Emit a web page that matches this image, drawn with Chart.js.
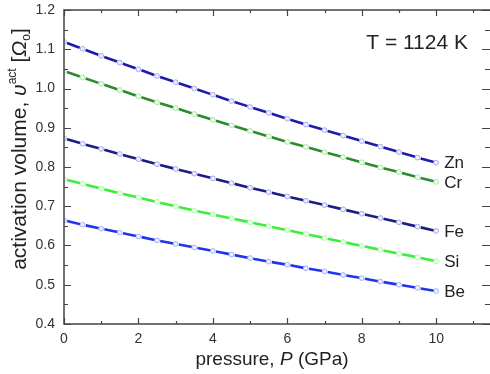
<!DOCTYPE html>
<html>
<head>
<meta charset="utf-8">
<script src="https://cdn.jsdelivr.net/npm/chart.js@4.4.0/dist/chart.umd.min.js"></script>
<style>
  html, body { margin: 0; padding: 0; background: #fff; overflow: hidden; }
  #wrap { width: 497px; height: 374px; }
</style>
</head>
<body>
<div id="wrap"><canvas id="chart"></canvas></div>
<script>
// pressure grid (GPa)
const pressure = [0, 0.5, 1, 1.5, 2, 2.5, 3, 3.5, 4, 4.5, 5, 5.5, 6, 6.5, 7, 7.5, 8, 8.5, 9, 9.5, 10];

// activation volume, in units of Omega_o
const zn = [1.119, 1.101, 1.083, 1.066, 1.049, 1.032, 1.016, 1.000, 0.984, 0.968, 0.953, 0.938, 0.923, 0.908, 0.894, 0.880, 0.866, 0.852, 0.838, 0.824, 0.811];
const cr = [1.045, 1.028, 1.012, 0.996, 0.980, 0.965, 0.950, 0.935, 0.920, 0.906, 0.892, 0.878, 0.864, 0.851, 0.838, 0.825, 0.812, 0.799, 0.787, 0.774, 0.762];
const fe = [0.873, 0.859, 0.846, 0.833, 0.820, 0.807, 0.795, 0.783, 0.771, 0.759, 0.747, 0.736, 0.725, 0.714, 0.703, 0.692, 0.681, 0.670, 0.659, 0.648, 0.637];
const si = [0.769, 0.757, 0.745, 0.733, 0.722, 0.711, 0.700, 0.689, 0.679, 0.669, 0.659, 0.649, 0.639, 0.629, 0.619, 0.609, 0.599, 0.589, 0.579, 0.570, 0.560];
const be = [0.664, 0.653, 0.643, 0.633, 0.623, 0.613, 0.604, 0.595, 0.586, 0.577, 0.568, 0.559, 0.551, 0.542, 0.534, 0.525, 0.517, 0.508, 0.500, 0.492, 0.484];

const elements = ['Zn', 'Cr', 'Fe', 'Si', 'Be'];
const xTicks = [0, 2, 4, 6, 8, 10];
const yTicks = [0.4, 0.5, 0.6, 0.7, 0.8, 0.9, 1.0, 1.1, 1.2];
const tempLabel = 'T = 1124 K';

const FONT = '"Liberation Sans", Arial, sans-serif';
const TEXT = '#222';
const AXIS = '#444';

function series(values, color, ptBorder, ptFill) {
    return {
        data: values.map((v, i) => ({ x: pressure[i], y: v })),
        borderColor: color,
        borderWidth: 2.6,
        borderDash: [0, 3.2, 13.6, 50],
        segment: {
            // distinct offset per segment (multiple of the dash period) so each one restarts the dash
            borderDashOffset: ctx => ctx.p0DataIndex * 66.8
        },
        pointRadius: 2.4,
        pointBorderWidth: 1,
        pointBorderColor: ptBorder,
        pointBackgroundColor: ptFill,
        tension: 0,
        fill: false
    };
}

const datasets = [
    series(zn, '#1c1cac', '#a8a8f0', '#eeeeff'),
    series(cr, '#2a8c2a', '#a8e0a8', '#f0fff0'),
    series(fe, '#1c1c84', '#a8a8e8', '#eeeeff'),
    series(si, '#3ced3c', '#b0f4b0', '#f0fff0'),
    series(be, '#2034ea', '#a8b0f8', '#eeeeff')
];

// frame, inward ticks, curve labels and axis titles
const decorations = {
    id: 'decorations',
    afterDraw(chart) {
        const { ctx, chartArea: a, scales: { x, y } } = chart;
        ctx.save();

        // frame
        ctx.strokeStyle = AXIS;
        ctx.lineWidth = 1.5;
        ctx.strokeRect(a.left, a.top, a.right - a.left, a.bottom - a.top);

        // x ticks (bottom and top, pointing in)
        ctx.lineWidth = 1.2;
        ctx.beginPath();
        for (let v = 0; v <= x.max + 1e-9; v += 1) {
            const px = Math.round(x.getPixelForValue(v)) + 0.5;
            const len = v % 2 === 0 ? 6 : 3;
            ctx.moveTo(px, a.bottom); ctx.lineTo(px, a.bottom - len);
            ctx.moveTo(px, a.top); ctx.lineTo(px, a.top + len);
        }
        // y ticks (left and right, pointing in)
        for (let k = 0; k <= 16; k++) {
            const v = y.min + k * 0.05;
            const py = Math.round(y.getPixelForValue(v)) + 0.5;
            const len = k % 2 === 0 ? 7 : 4;
            ctx.moveTo(a.left, py); ctx.lineTo(a.left + len, py);
            ctx.moveTo(a.right, py); ctx.lineTo(a.right - len - 3, py);
        }
        ctx.stroke();

        // element labels at the end of each curve
        ctx.fillStyle = TEXT;
        ctx.font = '17px ' + FONT;
        ctx.textAlign = 'left';
        ctx.textBaseline = 'middle';
        chart.data.datasets.forEach((ds, i) => {
            const pts = chart.getDatasetMeta(i).data;
            const last = pts[pts.length - 1];
            ctx.fillText(elements[i], last.x + 8, last.y + 1);
        });

        // temperature
        ctx.font = '21px ' + FONT;
        ctx.textAlign = 'right';
        ctx.fillText(tempLabel, 468, 43);

        // x title: pressure, P (GPa)
        const xParts = [
            { t: 'pressure, ', f: '19px ' + FONT },
            { t: 'P', f: 'italic 19px ' + FONT },
            { t: ' (GPa)', f: '19px ' + FONT }
        ];
        let w = 0;
        xParts.forEach(p => { ctx.font = p.f; p.w = ctx.measureText(p.t).width; w += p.w; });
        let cx = 272 - w / 2;
        ctx.textAlign = 'left';
        ctx.textBaseline = 'alphabetic';
        xParts.forEach(p => { ctx.font = p.f; ctx.fillText(p.t, cx, 365); cx += p.w; });

        // y title: activation volume, υ^act [Ω_o]
        const yParts = [
            { t: 'activation volume, ', f: '21px ' + FONT, dy: 0 },
            { t: 'υ', f: 'italic 21px ' + FONT, dy: 0 },
            { t: 'act', f: '12px ' + FONT, dy: -10 },
            { t: ' [', f: '21px ' + FONT, dy: 0 },
            { t: 'Ω', f: 'italic 21px ' + FONT, dy: 0 },
            { t: 'o', f: '12px ' + FONT, dy: 4 },
            { t: ']', f: '21px ' + FONT, dy: 0 }
        ];
        w = 0;
        yParts.forEach(p => { ctx.font = p.f; p.w = ctx.measureText(p.t).width; w += p.w; });
        ctx.translate(26, 149);
        ctx.rotate(-Math.PI / 2);
        cx = -w / 2;
        yParts.forEach(p => { ctx.font = p.f; ctx.fillText(p.t, cx, p.dy); cx += p.w; });

        ctx.restore();
    }
};

new Chart(document.getElementById('chart'), {
    type: 'line',
    data: { datasets },
    options: {
        responsive: true,
        maintainAspectRatio: false,
        animation: false,
        layout: { padding: { top: 10, right: 0, left: 0, bottom: 0 } },
        plugins: { legend: { display: false }, tooltip: { enabled: false } },
        scales: {
            x: {
                type: 'linear',
                min: 0,
                max: 11.5,
                grid: { display: false, drawTicks: false },
                border: { display: false },
                afterBuildTicks: axis => { axis.ticks = xTicks.map(v => ({ value: v })); },
                afterFit: axis => {
                    axis.height = 50;
                    axis.paddingLeft = 0;
                    axis.paddingRight = 0;
                },
                ticks: {
                    padding: 7,
                    color: '#333',
                    font: { family: FONT, size: 14 },
                    maxRotation: 0,
                    callback: v => String(v)
                }
            },
            y: {
                min: 0.4,
                max: 1.2,
                grid: { display: false, drawTicks: false },
                border: { display: false },
                afterBuildTicks: axis => { axis.ticks = yTicks.map(v => ({ value: v })); },
                afterFit: axis => {
                    axis.width = 64;
                    axis.paddingTop = 0;
                    axis.paddingBottom = 0;
                },
                ticks: {
                    padding: 9,
                    color: '#333',
                    font: { family: FONT, size: 14 },
                    callback: v => v.toFixed(1)
                }
            }
        }
    },
    plugins: [decorations]
});
</script>
</body>
</html>
